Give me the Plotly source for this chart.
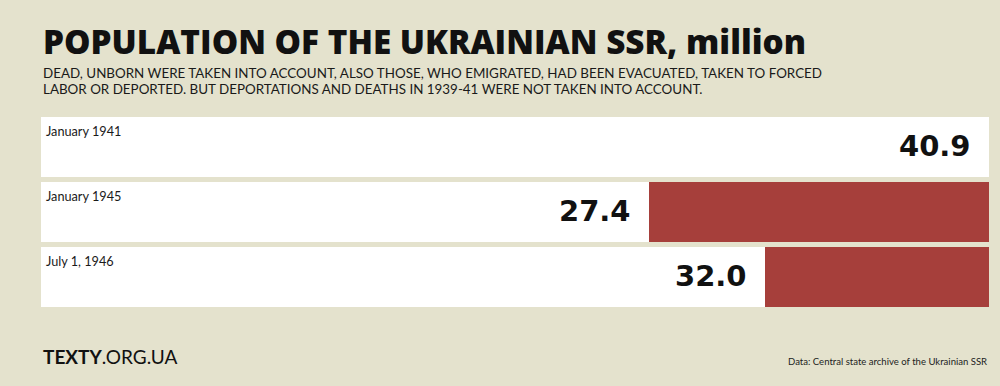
import plotly.graph_objects as go

# Data
categories = ["January 1941", "January 1945", "July 1, 1946"]
population = [40.9, 27.4, 32.0]
baseline_1941 = 40.9
losses = [round(baseline_1941 - v, 1) for v in population]
value_labels = ["40.9", "27.4", "32.0"]

title_text = "POPULATION OF THE UKRAINIAN SSR, million"
subtitle_lines = [
    "DEAD, UNBORN WERE TAKEN INTO ACCOUNT, ALSO THOSE, WHO EMIGRATED, HAD BEEN EVACUATED, TAKEN TO FORCED",
    "LABOR OR DEPORTED. BUT DEPORTATIONS AND DEATHS IN 1939-41 WERE NOT TAKEN INTO ACCOUNT.",
]
logo_text = "<b>TEXTY</b>.ORG.UA"
source_text = "Data: Central state archive of the Ukrainian SSR"

BG = "#e4e2cd"
RED = "#a63f3b"
FONT = "Lato"

fig = go.Figure()
fig.add_trace(go.Bar(
    y=categories, x=population, orientation="h",
    marker=dict(color="white", line=dict(width=0)),
    hoverinfo="skip", name="population",
))
fig.add_trace(go.Bar(
    y=categories, x=losses, orientation="h",
    marker=dict(color=RED, line=dict(width=0)),
    hoverinfo="skip", name="loss",
))

annotations = []
for cat, val, lab in zip(categories, population, value_labels):
    annotations.append(dict(
        x=val, y=cat, xref="x", yref="y", text=lab, showarrow=False,
        xanchor="right", yanchor="middle", xshift=-16, yshift=1,
        font=dict(family="DejaVu Sans", size=29, color="#111111", weight="bold"),
    ))
    annotations.append(dict(
        x=0, y=cat, xref="x domain", yref="y", text=cat, showarrow=False,
        xanchor="left", yanchor="middle", xshift=3, yshift=16,
        font=dict(family=FONT, size=12.7, color="#1a1a1a"),
    ))

annotations.append(dict(
    x=0.041, y=1 - 41.5 / 386, xref="paper", yref="paper",
    text=title_text, showarrow=False,
    xanchor="left", yanchor="middle",
    font=dict(family="Open Sans", size=33.3, color="#111111", weight=800),
))
for i, line in enumerate(subtitle_lines):
    annotations.append(dict(
        x=0.041, y=1 - (73 + 15.5 * i) / 386, xref="paper", yref="paper",
        text=line, showarrow=False, xanchor="left", yanchor="middle", align="left",
        font=dict(family=FONT, size=13.4, color="#1a1a1a"),
    ))
annotations.append(dict(
    x=0.041, y=1 - 356 / 386, xref="paper", yref="paper",
    text=logo_text, showarrow=False,
    xanchor="left", yanchor="middle",
    font=dict(family=FONT, size=19, color="#111111"),
))
annotations.append(dict(
    x=0.989, y=1 - 361.5 / 386, xref="paper", yref="paper",
    text=source_text, showarrow=False,
    xanchor="right", yanchor="middle",
    font=dict(family=FONT, size=9.55, color="#222222"),
))

fig.update_layout(
    width=1000, height=386,
    margin=dict(l=0, r=0, t=0, b=0),
    paper_bgcolor=BG, plot_bgcolor=BG,
    barmode="stack", bargap=5 / 65,
    showlegend=False,
    xaxis=dict(range=[3.3, 40.9], domain=[0.041, 0.989], visible=False, fixedrange=True),
    yaxis=dict(domain=[(386 - 309.5) / 386, (386 - 114.5) / 386], autorange="reversed",
               visible=False, fixedrange=True, categoryorder="array", categoryarray=categories),
    annotations=annotations,
)

fig.write_html("out.html", config={"displayModeBar": False},
               post_script="document.body.style.margin='0';")
